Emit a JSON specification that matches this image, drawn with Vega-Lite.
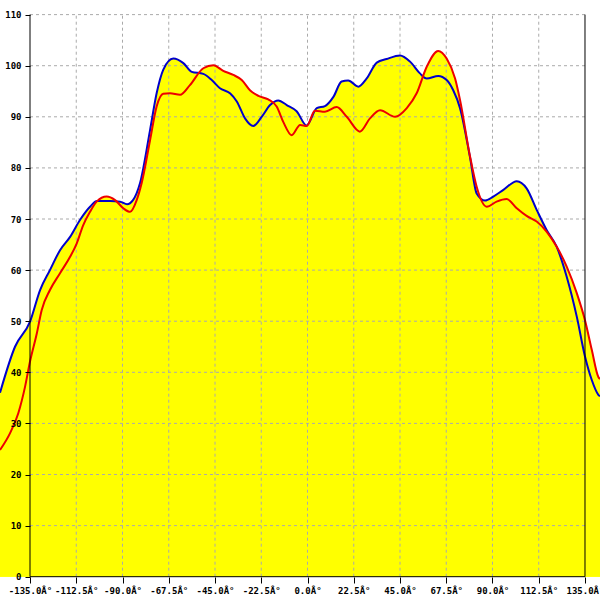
{
  "$schema": "https://vega.github.io/schema/vega-lite/v6.json",
  "width": 600,
  "height": 600,
  "padding": 0,
  "autosize": {"type": "none"},
  "background": "#ffffff",
  "config": {"view": {"stroke": null}},
  "datasets": {
    "curves": [
      {"deg": -149.6, "value": 36.0, "series": "blue"},
      {"deg": -142.3, "value": 45.0, "series": "blue"},
      {"deg": -135.0, "value": 49.9, "series": "blue"},
      {"deg": -130.1, "value": 56.1, "series": "blue"},
      {"deg": -125.3, "value": 60.0, "series": "blue"},
      {"deg": -120.4, "value": 63.9, "series": "blue"},
      {"deg": -115.5, "value": 66.5, "series": "blue"},
      {"deg": -110.7, "value": 69.8, "series": "blue"},
      {"deg": -105.8, "value": 72.4, "series": "blue"},
      {"deg": -102.4, "value": 73.5, "series": "blue"},
      {"deg": -96.1, "value": 73.5, "series": "blue"},
      {"deg": -91.2, "value": 73.4, "series": "blue"},
      {"deg": -87.8, "value": 72.9, "series": "blue"},
      {"deg": -84.9, "value": 73.7, "series": "blue"},
      {"deg": -81.5, "value": 77.0, "series": "blue"},
      {"deg": -76.6, "value": 87.4, "series": "blue"},
      {"deg": -73.4, "value": 94.6, "series": "blue"},
      {"deg": -70.2, "value": 99.2, "series": "blue"},
      {"deg": -65.3, "value": 101.4, "series": "blue"},
      {"deg": -60.4, "value": 100.5, "series": "blue"},
      {"deg": -56.3, "value": 98.8, "series": "blue"},
      {"deg": -50.7, "value": 98.4, "series": "blue"},
      {"deg": -46.6, "value": 97.2, "series": "blue"},
      {"deg": -42.6, "value": 95.6, "series": "blue"},
      {"deg": -37.7, "value": 94.6, "series": "blue"},
      {"deg": -34.4, "value": 93.0, "series": "blue"},
      {"deg": -30.4, "value": 89.7, "series": "blue"},
      {"deg": -26.4, "value": 88.2, "series": "blue"},
      {"deg": -22.3, "value": 90.0, "series": "blue"},
      {"deg": -18.2, "value": 92.3, "series": "blue"},
      {"deg": -14.2, "value": 93.2, "series": "blue"},
      {"deg": -10.1, "value": 92.3, "series": "blue"},
      {"deg": -5.3, "value": 91.1, "series": "blue"},
      {"deg": -0.4, "value": 88.3, "series": "blue"},
      {"deg": 4.5, "value": 91.7, "series": "blue"},
      {"deg": 8.5, "value": 92.1, "series": "blue"},
      {"deg": 12.6, "value": 93.9, "series": "blue"},
      {"deg": 16.6, "value": 96.9, "series": "blue"},
      {"deg": 19.8, "value": 97.1, "series": "blue"},
      {"deg": 24.7, "value": 95.9, "series": "blue"},
      {"deg": 28.8, "value": 97.5, "series": "blue"},
      {"deg": 33.7, "value": 100.6, "series": "blue"},
      {"deg": 38.5, "value": 101.3, "series": "blue"},
      {"deg": 45.0, "value": 102.0, "series": "blue"},
      {"deg": 49.9, "value": 100.8, "series": "blue"},
      {"deg": 54.7, "value": 98.5, "series": "blue"},
      {"deg": 58.0, "value": 97.5, "series": "blue"},
      {"deg": 63.6, "value": 98.0, "series": "blue"},
      {"deg": 67.7, "value": 97.2, "series": "blue"},
      {"deg": 70.9, "value": 95.2, "series": "blue"},
      {"deg": 74.2, "value": 91.7, "series": "blue"},
      {"deg": 79.1, "value": 82.0, "series": "blue"},
      {"deg": 82.3, "value": 75.0, "series": "blue"},
      {"deg": 86.4, "value": 73.6, "series": "blue"},
      {"deg": 90.4, "value": 74.4, "series": "blue"},
      {"deg": 95.3, "value": 75.7, "series": "blue"},
      {"deg": 101.8, "value": 77.4, "series": "blue"},
      {"deg": 106.6, "value": 76.0, "series": "blue"},
      {"deg": 111.5, "value": 71.8, "series": "blue"},
      {"deg": 116.4, "value": 67.8, "series": "blue"},
      {"deg": 121.2, "value": 64.6, "series": "blue"},
      {"deg": 126.1, "value": 58.7, "series": "blue"},
      {"deg": 131.0, "value": 50.9, "series": "blue"},
      {"deg": 135.0, "value": 43.1, "series": "blue"},
      {"deg": 138.3, "value": 38.5, "series": "blue"},
      {"deg": 141.5, "value": 35.6, "series": "blue"},
      {"deg": 142.3, "value": 35.3, "series": "blue"},
      {"deg": -149.6, "value": 24.8, "series": "red"},
      {"deg": -144.7, "value": 28.1, "series": "red"},
      {"deg": -140.7, "value": 32.0, "series": "red"},
      {"deg": -137.4, "value": 37.2, "series": "red"},
      {"deg": -135.0, "value": 42.1, "series": "red"},
      {"deg": -131.7, "value": 47.6, "series": "red"},
      {"deg": -129.3, "value": 52.2, "series": "red"},
      {"deg": -125.3, "value": 56.1, "series": "red"},
      {"deg": -120.4, "value": 59.4, "series": "red"},
      {"deg": -115.5, "value": 62.6, "series": "red"},
      {"deg": -112.3, "value": 65.2, "series": "red"},
      {"deg": -109.1, "value": 68.8, "series": "red"},
      {"deg": -105.8, "value": 71.4, "series": "red"},
      {"deg": -102.6, "value": 73.4, "series": "red"},
      {"deg": -97.7, "value": 74.4, "series": "red"},
      {"deg": -93.6, "value": 73.7, "series": "red"},
      {"deg": -89.6, "value": 72.1, "series": "red"},
      {"deg": -86.3, "value": 71.4, "series": "red"},
      {"deg": -83.1, "value": 73.7, "series": "red"},
      {"deg": -80.7, "value": 77.0, "series": "red"},
      {"deg": -76.6, "value": 85.4, "series": "red"},
      {"deg": -73.4, "value": 92.0, "series": "red"},
      {"deg": -70.2, "value": 94.5, "series": "red"},
      {"deg": -66.9, "value": 94.6, "series": "red"},
      {"deg": -62.0, "value": 94.3, "series": "red"},
      {"deg": -57.2, "value": 96.2, "series": "red"},
      {"deg": -50.7, "value": 99.5, "series": "red"},
      {"deg": -45.8, "value": 100.1, "series": "red"},
      {"deg": -41.0, "value": 99.0, "series": "red"},
      {"deg": -36.1, "value": 98.2, "series": "red"},
      {"deg": -32.0, "value": 97.2, "series": "red"},
      {"deg": -28.0, "value": 95.2, "series": "red"},
      {"deg": -23.9, "value": 94.1, "series": "red"},
      {"deg": -19.1, "value": 93.4, "series": "red"},
      {"deg": -15.0, "value": 92.0, "series": "red"},
      {"deg": -11.8, "value": 89.0, "series": "red"},
      {"deg": -7.7, "value": 86.4, "series": "red"},
      {"deg": -3.6, "value": 88.4, "series": "red"},
      {"deg": -0.4, "value": 88.2, "series": "red"},
      {"deg": 3.6, "value": 91.2, "series": "red"},
      {"deg": 8.5, "value": 91.0, "series": "red"},
      {"deg": 14.2, "value": 91.9, "series": "red"},
      {"deg": 19.1, "value": 90.0, "series": "red"},
      {"deg": 25.5, "value": 87.1, "series": "red"},
      {"deg": 30.4, "value": 89.7, "series": "red"},
      {"deg": 35.3, "value": 91.3, "series": "red"},
      {"deg": 42.6, "value": 90.0, "series": "red"},
      {"deg": 48.3, "value": 91.7, "series": "red"},
      {"deg": 53.1, "value": 94.6, "series": "red"},
      {"deg": 58.0, "value": 99.8, "series": "red"},
      {"deg": 63.6, "value": 102.9, "series": "red"},
      {"deg": 67.7, "value": 101.4, "series": "red"},
      {"deg": 71.8, "value": 97.5, "series": "red"},
      {"deg": 74.2, "value": 93.3, "series": "red"},
      {"deg": 79.1, "value": 82.2, "series": "red"},
      {"deg": 82.3, "value": 76.3, "series": "red"},
      {"deg": 87.2, "value": 72.4, "series": "red"},
      {"deg": 92.0, "value": 73.4, "series": "red"},
      {"deg": 96.9, "value": 73.9, "series": "red"},
      {"deg": 101.8, "value": 72.1, "series": "red"},
      {"deg": 106.6, "value": 70.6, "series": "red"},
      {"deg": 111.5, "value": 69.5, "series": "red"},
      {"deg": 116.4, "value": 67.5, "series": "red"},
      {"deg": 121.2, "value": 64.6, "series": "red"},
      {"deg": 126.1, "value": 60.7, "series": "red"},
      {"deg": 131.0, "value": 55.5, "series": "red"},
      {"deg": 135.0, "value": 50.2, "series": "red"},
      {"deg": 138.3, "value": 44.4, "series": "red"},
      {"deg": 141.5, "value": 39.1, "series": "red"},
      {"deg": 142.3, "value": 38.7, "series": "red"}
    ],
    "xgrid": [
      {"t": -112.5}, {"t": -90}, {"t": -67.5}, {"t": -45}, {"t": -22.5}, {"t": 0},
      {"t": 22.5}, {"t": 45}, {"t": 67.5}, {"t": 90}, {"t": 112.5}
    ],
    "ygrid": [
      {"t": 10}, {"t": 20}, {"t": 30}, {"t": 40}, {"t": 50}, {"t": 60},
      {"t": 70}, {"t": 80}, {"t": 90}, {"t": 100}, {"t": 110}
    ],
    "one": [{"k": 1}]
  },
  "layer": [
    {
      "data": {"name": "curves"},
      "mark": {"type": "area", "color": "#ffff00", "interpolate": "monotone"},
      "encoding": {
        "x": {
          "field": "deg", "type": "quantitative",
          "scale": {"domain": [-149.6, 142.3], "nice": false, "zero": false},
          "axis": {
            "title": null, "orient": "bottom", "offset": -23, "zindex": 1,
            "values": [-135, -112.5, -90, -67.5, -45, -22.5, 0, 22.5, 45, 67.5, 90, 112.5, 135],
            "domain": false, "grid": false,
            "ticks": true, "tickSize": 6, "tickColor": "#000000", "tickWidth": 1,
            "labelExpr": "(datum.value < 0 ? '-' : '') + format(abs(datum.value), '.1f') + 'Â°'",
            "labelFont": "DejaVu Sans Mono", "labelFontSize": 9, "labelFontWeight": "bold",
            "labelColor": "#000000", "labelPadding": 3, "labelOverlap": false, "labelFlush": false
          }
        },
        "y": {
          "field": "value", "type": "quantitative",
          "scale": {"domain": [-4.56, 112.86], "nice": false, "zero": false},
          "axis": {
            "title": null, "orient": "left", "offset": -30, "zindex": 1,
            "values": [0, 10, 20, 30, 40, 50, 60, 70, 80, 90, 100, 110],
            "domain": false, "grid": false,
            "ticks": true, "tickSize": 5, "tickColor": "#000000", "tickWidth": 1,
            "labelFont": "DejaVu Sans Mono", "labelFontSize": 9, "labelFontWeight": "bold",
            "labelColor": "#000000", "labelPadding": 4, "labelOverlap": false
          }
        },
        "y2": {"datum": 0},
        "detail": {"field": "series"}
      }
    },
    {
      "data": {"name": "xgrid"},
      "mark": {"type": "rule", "color": "#aaaaaa", "strokeDash": [3, 3], "strokeWidth": 1},
      "encoding": {
        "x": {"field": "t", "type": "quantitative"},
        "y": {"datum": 0, "type": "quantitative"},
        "y2": {"datum": 110}
      }
    },
    {
      "data": {"name": "ygrid"},
      "mark": {"type": "rule", "color": "#aaaaaa", "strokeDash": [3, 3], "strokeWidth": 1},
      "encoding": {
        "y": {"field": "t", "type": "quantitative"},
        "x": {"datum": -135, "type": "quantitative"},
        "x2": {"datum": 135}
      }
    },
    {
      "data": {"name": "curves"},
      "mark": {"type": "line", "interpolate": "monotone", "strokeWidth": 2},
      "encoding": {
        "x": {"field": "deg", "type": "quantitative"},
        "y": {"field": "value", "type": "quantitative"},
        "color": {
          "field": "series", "type": "nominal",
          "scale": {"domain": ["blue", "red"], "range": ["#0000cc", "#ee0000"]},
          "legend": null
        }
      }
    },
    {
      "data": {"name": "one"},
      "mark": {"type": "rule", "color": "#000000", "strokeWidth": 1},
      "encoding": {
        "x": {"datum": -135, "type": "quantitative"},
        "y": {"datum": 0, "type": "quantitative"},
        "y2": {"datum": 110}
      }
    },
    {
      "data": {"name": "one"},
      "mark": {"type": "rule", "color": "#000000", "strokeWidth": 1},
      "encoding": {
        "x": {"datum": 135, "type": "quantitative"},
        "y": {"datum": 0, "type": "quantitative"},
        "y2": {"datum": 110}
      }
    },
    {
      "data": {"name": "one"},
      "mark": {"type": "rule", "color": "#000000", "strokeWidth": 1},
      "encoding": {
        "y": {"datum": 0, "type": "quantitative"},
        "x": {"datum": -135, "type": "quantitative"},
        "x2": {"datum": 135}
      }
    }
  ]
}
